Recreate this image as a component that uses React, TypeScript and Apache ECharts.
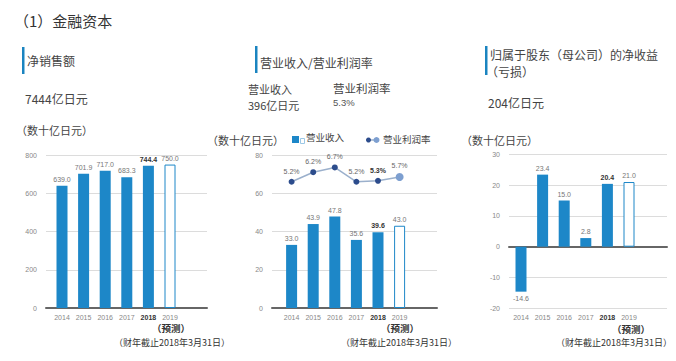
import React, { useEffect, useRef } from "react";
import * as echarts from "echarts";

const years = ["2014", "2015", "2016", "2017", "2018", "2019"];
const netSales = [639.0, 701.9, 717.0, 683.3, 744.4, 750.0];
const opIncome = [33.0, 43.9, 47.8, 35.6, 39.6, 43.0];
const opMargin = [5.2, 6.2, 6.7, 5.2, 5.3, 5.7];
const netIncome = [-14.6, 23.4, 15.0, 2.8, 20.4, 21.0];

const BLUE = "#1d87c8";
const NAVY = "#2c4c8c";
const CJK = "'Noto Sans CJK SC', sans-serif";
const LAT = "'Liberation Sans', Arial, sans-serif";

function barData(vals: number[]) {
  return vals.map((v, i) => {
    const item: any = {
      value: v,
      label: {
        position: v < 0 ? "bottom" : "top",
        fontWeight: i === 4 ? "bold" : "normal",
        color: i === 4 ? "#333" : "#777",
      },
    };
    if (i === 5) item.itemStyle = { color: "#fff", borderColor: BLUE, borderWidth: 1 };
    return item;
  });
}

const yearLabels = years.map((y, i) =>
  i === 4 ? { value: y, textStyle: { fontWeight: "bold", color: "#333" } } : y
);

function wideX(grid: number) {
  return {
    gridIndex: grid,
    type: "category",
    data: years,
    axisLine: { show: true, lineStyle: { color: "#666", width: 2 } },
    axisTick: { show: false },
    axisLabel: { show: false },
    splitLine: { show: false },
  };
}
function barX(grid: number) {
  return {
    gridIndex: grid,
    type: "category",
    data: yearLabels,
    axisLine: { show: false, onZero: false },
    axisTick: { show: false },
    axisLabel: { margin: 6, fontSize: 7, color: "#888", fontFamily: LAT },
  };
}
function wideY(grid: number, min: number, max: number, interval: number) {
  return {
    gridIndex: grid,
    type: "value",
    min,
    max,
    interval,
    axisLine: { show: false },
    axisTick: { show: false },
    axisLabel: { fontSize: 7, color: "#888", margin: 9, fontFamily: LAT },
    splitLine: { lineStyle: { color: "#dcdcdc", width: 1 } },
  };
}
function hiddenY(grid: number, min: number, max: number) {
  return { gridIndex: grid, type: "value", min, max, show: false, splitLine: { show: false } };
}

function txt(text: string, x: number, y: number, size: number, extra: any = {}) {
  return {
    type: "text",
    x,
    y,
    silent: true,
    style: {
      text,
      fill: extra.fill || "#444",
      font: `${extra.weight || "normal"} ${size}px ${extra.family || CJK}`,
      align: extra.align || "left",
      verticalAlign: "middle",
    },
  };
}

const barLabel = { show: true, distance: 3, fontSize: 7, fontFamily: LAT, color: "#777" };

export default function App() {
  const ref = useRef<HTMLDivElement>(null);
  useEffect(() => {
    document.body.style.margin = "0";
    const chart = echarts.init(ref.current!, undefined, { renderer: "svg" });
    const graphic: any[] = [
      txt("（1）金融资本", 14, 20, 15, { fill: "#333" }),
      { type: "rect", shape: { x: 22, y: 47, width: 2.5, height: 27 }, style: { fill: "#1a84c0" } },
      { type: "rect", shape: { x: 255, y: 46, width: 2.5, height: 27 }, style: { fill: "#1a84c0" } },
      { type: "rect", shape: { x: 485, y: 46, width: 2.5, height: 29 }, style: { fill: "#1a84c0" } },
      txt("净销售额", 27, 60, 12),
      txt("7444亿日元", 25, 98, 12),
      txt("（数十亿日元）", 16, 130, 11),
      txt("营业收入/营业利润率", 260, 62, 12),
      txt("营业收入", 248, 89, 11),
      txt("396亿日元", 248, 105, 11),
      txt("营业利润率", 333, 88, 11.5),
      txt("5.3%", 333, 102, 9.5, { fill: "#555", family: LAT }),
      txt("（数十亿日元）", 207, 140, 11),
      { type: "rect", shape: { x: 292, y: 136, width: 7, height: 7 }, style: { fill: BLUE } },
      { type: "rect", shape: { x: 300.5, y: 138.5, width: 4, height: 5 }, style: { fill: "none", stroke: "#9cc8e6", lineWidth: 1 } },
      txt("营业收入", 306, 137, 9.5),
      { type: "line", shape: { x1: 366, y1: 140, x2: 379, y2: 140 }, style: { stroke: "#9bb0cc", lineWidth: 1.5 } },
      { type: "circle", shape: { cx: 368.5, cy: 140, r: 2.5 }, style: { fill: NAVY } },
      { type: "circle", shape: { cx: 376.5, cy: 140, r: 3 }, style: { fill: "#7d9fd0" } },
      txt("营业利润率", 383, 139, 9.5),
      txt("归属于股东（母公司）的净收益", 490, 54, 12),
      txt("（亏损）", 486, 71, 12),
      txt("204亿日元", 488, 102, 12),
      txt("（数十亿日元）", 461, 140, 11),
      txt("（预测）", 171, 328, 9.5, { weight: "bold", align: "center", fill: "#333" }),
      txt("（财年截止2018年3月31日）", 172, 342, 9, { align: "center", fill: "#333" }),
      txt("（预测）", 400, 328, 9.5, { weight: "bold", align: "center", fill: "#333" }),
      txt("（财年截止2018年3月31日）", 399, 342, 9, { align: "center", fill: "#333" }),
      txt("（预测）", 631, 329, 9.5, { weight: "bold", align: "center", fill: "#333" }),
      txt("（财年截止2018年3月31日）", 614, 342, 9, { align: "center", fill: "#333" }),
    ];

    chart.setOption({
      animation: false,
      backgroundColor: "#fff",
      grid: [
        { left: 46, top: 155, width: 161, height: 153 },
        { left: 51.2, top: 155, width: 129.6, height: 153 },
        { left: 272, top: 155, width: 165, height: 153 },
        { left: 280.8, top: 155, width: 129.6, height: 153 },
        { left: 509, top: 154.3, width: 158, height: 154 },
        { left: 510.2, top: 154.3, width: 129.6, height: 154 },
      ],
      xAxis: [wideX(0), barX(1), wideX(2), barX(3), wideX(4), barX(5)],
      yAxis: [
        wideY(0, 0, 800, 200),
        hiddenY(1, 0, 800),
        wideY(2, 0, 80, 20),
        hiddenY(3, 0, 80),
        hiddenY(3, -8, 8),
        wideY(4, -20, 30, 10),
        hiddenY(5, -20, 30),
      ],
      series: [
        {
          type: "bar",
          xAxisIndex: 1,
          yAxisIndex: 1,
          barWidth: 11,
          itemStyle: { color: BLUE },
          label: { ...barLabel, formatter: (p: any) => p.value.toFixed(1) },
          data: barData(netSales),
        },
        {
          type: "bar",
          xAxisIndex: 3,
          yAxisIndex: 3,
          barWidth: 11,
          itemStyle: { color: BLUE },
          label: { ...barLabel, formatter: (p: any) => p.value.toFixed(1) },
          data: barData(opIncome),
        },
        {
          type: "line",
          xAxisIndex: 3,
          yAxisIndex: 4,
          symbol: "circle",
          symbolSize: 6,
          lineStyle: { color: "#9bb0cc", width: 1.5 },
          itemStyle: { color: NAVY },
          label: {
            show: true,
            position: "top",
            distance: 4,
            fontSize: 7,
            fontFamily: LAT,
            color: "#666",
            formatter: (p: any) => p.value.toFixed(1) + "%",
          },
          data: opMargin.map((v, i) => {
            const item: any = { value: v };
            if (i === 4) item.label = { fontWeight: "bold", color: "#333" };
            if (i === 5) {
              item.symbolSize = 8;
              item.itemStyle = { color: "#7d9fd0" };
            }
            return item;
          }),
          z: 5,
        },
        {
          type: "bar",
          xAxisIndex: 5,
          yAxisIndex: 6,
          barWidth: 11,
          itemStyle: { color: BLUE },
          label: { ...barLabel, formatter: (p: any) => p.value.toFixed(1) },
          data: barData(netIncome),
        },
      ],
      graphic,
    });
    return () => chart.dispose();
  }, []);
  return <div ref={ref} style={{ width: 676, height: 361 }} />;
}
